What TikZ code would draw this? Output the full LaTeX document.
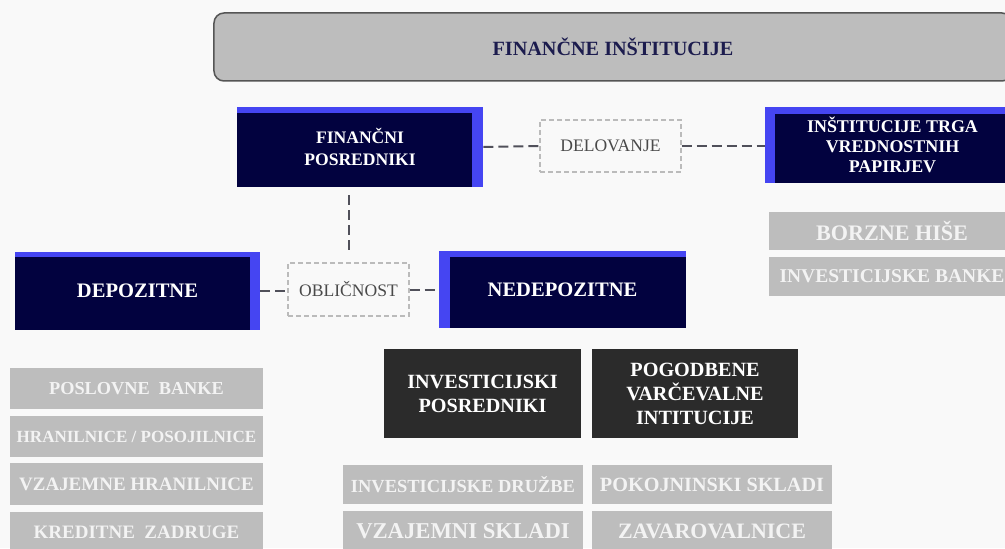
\documentclass[tikz,border=0pt]{standalone}
\usepackage{fontspec}
\setmainfont{Liberation Serif}

\definecolor{ozadje}{HTML}{F9F9F9}
\definecolor{temnomodra}{HTML}{02023F}
\definecolor{robmodra}{HTML}{4545F2}
\definecolor{naslov}{HTML}{1C1C4E}
\definecolor{oglje}{HTML}{2B2B2B}
\definecolor{svetla}{HTML}{BDBDBD}
\definecolor{belo}{HTML}{F3F3F3}
\definecolor{crta}{HTML}{50505A}
\definecolor{okvir}{HTML}{BBBBBB}
\definecolor{napis}{HTML}{4A4A4A}
\definecolor{obroba}{HTML}{555555}

\begin{document}
\begin{tikzpicture}[x=0.2mm,y=-0.2mm,
    glava/.style={fill=svetla, draw=obroba, line width=0.3mm,
        rounded corners=2mm, text=naslov, inner sep=0pt,
        font=\bfseries\fontsize{11.5}{13}\selectfont},
    posrednik/.style={fill=robmodra, text=white, align=center, inner sep=0pt,
        font=\bfseries\fontsize{10}{12}\selectfont},
    rob desno/.style 2 args={posrednik, path picture={
        \fill[temnomodra] (path picture bounding box.south west)
            rectangle ([xshift=-#1,yshift=-#2]path picture bounding box.north east);}},
    rob levo/.style 2 args={posrednik, path picture={
        \fill[temnomodra] ([xshift=#1]path picture bounding box.south west)
            rectangle ([yshift=-#2]path picture bounding box.north east);}},
    skupina/.style={fill=oglje, text=white, align=center, inner sep=0pt,
        minimum height=17.8mm, font=\bfseries\fontsize{11.5}{13.7}\selectfont},
    vrsta/.style={fill=svetla, text=belo, inner sep=0pt,
        font=\bfseries\fontsize{#1}{13}\selectfont},
    vrsta/.default=10.5,
    pogoj/.style={draw=okvir, line width=0.25mm, dash pattern=on 1mm off 0.6mm,
        text=napis, inner sep=0pt, font=\fontsize{10}{12}\selectfont},
    vez/.style={draw=crta, line width=0.4mm, dash pattern=on 2mm off 1mm}]

    \clip (0,0) rectangle (1005,548);
    \fill[ozadje] (0,0) rectangle (1005,548);

    % vrh
    \node[glava, minimum width=159.6mm, minimum height=13.6mm] (inst) at (613,47) {FINANČNE INŠTITUCIJE};

    % glavne skupine
    \node[rob desno={2.2mm}{1.2mm}, minimum width=49.2mm, minimum height=16mm] (fp) at (360,147)
        {FINANČNI\\POSREDNIKI};
    \node[rob levo={2mm}{1.4mm}, minimum width=51mm, minimum height=15.2mm,
        font=\bfseries\fontsize{10.2}{11.5}\selectfont] (trg) at (892.5,145)
        {INŠTITUCIJE TRGA\\VREDNOSTNIH\\PAPIRJEV};
    \node[rob desno={2mm}{1mm}, minimum width=49mm, minimum height=15.6mm,
        font=\bfseries\fontsize{11.7}{13}\selectfont] (dep) at (137.5,291) {DEPOZITNE};
    \node[rob levo={2.2mm}{1.2mm}, minimum width=49.4mm, minimum height=15.4mm,
        font=\bfseries\fontsize{11.7}{13}\selectfont] (nedep) at (562.5,289.5) {NEDEPOZITNE};

    % merila
    \node[pogoj, minimum width=28.2mm, minimum height=10.4mm] (delo) at (610.5,146) {DELOVANJE};
    \node[pogoj, minimum width=24.2mm, minimum height=10.6mm] (oblika) at (348.5,289.5) {OBLIČNOST};

    \draw[vez] (fp.east) -- (delo.west);
    \draw[vez] (delo.east) -- (delo.east -| trg.west);
    \draw[vez] (dep.east) -- (dep.east -| oblika.west);
    \draw[vez] (oblika.east) -- (oblika.east -| nedep.west);
    \draw[vez, shorten <=1.6mm, shorten >=2mm] (fp.south -| oblika.north) -- (oblika.north);

    % nedepozitne
    \node[skupina, minimum width=39.4mm] (invpos) at (482.5,393.5) {INVESTICIJSKI\\POSREDNIKI};
    \node[skupina, minimum width=41.2mm] (pogvar) at (695,393.5) {POGODBENE\\VARČEVALNE\\INTITUCIJE};

    % depozitne
    \node[vrsta=10.4, minimum width=50.6mm, minimum height=8.2mm] (banke) at (136.5,388.5) {POSLOVNE\ \ BANKE};
    \node[vrsta=9.7, minimum width=50.6mm, minimum height=8.2mm] (hran) at (136.5,436.5) {HRANILNICE / POSOJILNICE};
    \node[vrsta=10.8, minimum width=50.6mm, minimum height=8.4mm] (vzhran) at (136.5,484) {VZAJEMNE HRANILNICE};
    \node[vrsta=10.8, minimum width=50.6mm, minimum height=8.2mm] (zadr) at (136.5,532.5) {KREDITNE\ \ ZADRUGE};

    \node[vrsta=10.5, minimum width=48mm, minimum height=7.8mm] (druzbe) at (463,484.5) {INVESTICIJSKE DRUŽBE};
    \node[vrsta=12.9, minimum width=48mm, minimum height=8mm] (vzskl) at (463,531) {VZAJEMNI SKLADI};
    \node[vrsta=11.5, minimum width=48mm, minimum height=7.8mm] (pokoj) at (712,484.5) {POKOJNINSKI SKLADI};
    \node[vrsta=12.5, minimum width=48mm, minimum height=8mm] (zavar) at (712,531) {ZAVAROVALNICE};

    % trg vrednostnih papirjev
    \node[vrsta=12.6, minimum width=49.2mm, minimum height=7.6mm] (borze) at (892,231) {BORZNE HIŠE};
    \node[vrsta=11.1, minimum width=49.2mm, minimum height=7.8mm] (invbanke) at (892,276.5) {INVESTICIJSKE BANKE};
\end{tikzpicture}
\end{document}
